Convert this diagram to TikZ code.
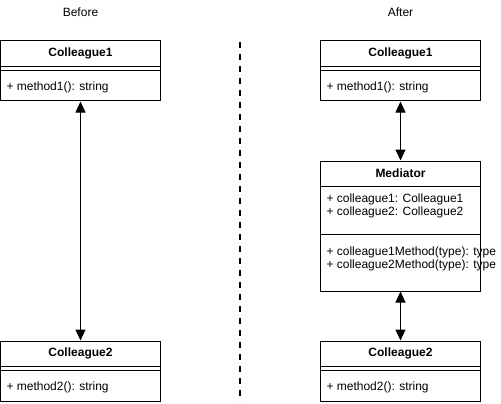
\documentclass[tikz,border=0pt]{standalone}
\usepackage{fontspec}
\setmainfont{Liberation Sans}
\usetikzlibrary{arrows.meta, positioning}

\begin{document}
\begin{tikzpicture}[
    x=1pt, y=-1pt,
    line width=1pt,
    >={Triangle[length=11pt, width=10pt]},
    every node/.style={font=\fontsize{12}{14}\selectfont},
    classbox/.style={draw, anchor=north, minimum width=160pt, inner sep=0pt},
    classname/.style={font=\bfseries\fontsize{12}{14}\selectfont},
    member/.style={anchor=west, inner sep=0pt}
]
    \useasboundingbox (0,0) rectangle (501,404);

    % Before
    \node (before) at (80.5,12) {Before};

    \node[classbox, minimum height=60pt] (c1l) at (80.5,40.5) {};
    \node[classname] (c1lname) at (80.5,53.5) {Colleague1};
    \draw (c1l.north west) ++(0,26) -- ++(160,0) ++(-160,4) -- ++(160,0);
    \node[member] (c1lm) at (6,87.5) {+ method1(): string};

    \node[classbox, minimum height=60pt] (c2l) at (80.5,340.5) {};
    \node[classname] (c2lname) at (80.5,353.5) {Colleague2};
    \draw (c2l.north west) ++(0,26) -- ++(160,0) ++(-160,4) -- ++(160,0);
    \node[member] (c2lm) at (6,387.5) {+ method2(): string};

    \draw[<->] (c1l) -- (c2l);

    % divider
    \draw[line width=2pt, dash pattern=on 6pt off 6pt] (240,42) -- (240,402);

    % After
    \node (after) at (400.5,12) {After};

    \node[classbox, minimum height=60pt] (c1r) at (400.5,40.5) {};
    \node[classname] (c1rname) at (400.5,53.5) {Colleague1};
    \draw (c1r.north west) ++(0,26) -- ++(160,0) ++(-160,4) -- ++(160,0);
    \node[member] (c1rm) at (326,87.5) {+ method1(): string};

    \node[classbox, minimum height=130pt] (med) at (400.5,160.5) {};
    \node[classname] (medname) at (400.5,173.5) {Mediator};
    \draw (med.north west) ++(0,26) -- ++(160,0) ++(-160,48) -- ++(160,0);
    \node[member] (meda1) at (326,199) {+ colleague1: Colleague1};
    \node[member] (meda2) at (326,212) {+ colleague2: Colleague2};
    \node[member] (medm1) at (326,252) {+ colleague1Method(type): type};
    \node[member] (medm2) at (326,265) {+ colleague2Method(type): type};

    \node[classbox, minimum height=60pt] (c2r) at (400.5,340.5) {};
    \node[classname] (c2rname) at (400.5,353.5) {Colleague2};
    \draw (c2r.north west) ++(0,26) -- ++(160,0) ++(-160,4) -- ++(160,0);
    \node[member] (c2rm) at (326,387.5) {+ method2(): string};

    \draw[<->] (c1r) -- (med);
    \draw[<->] (med) -- (c2r);
\end{tikzpicture}
\end{document}
